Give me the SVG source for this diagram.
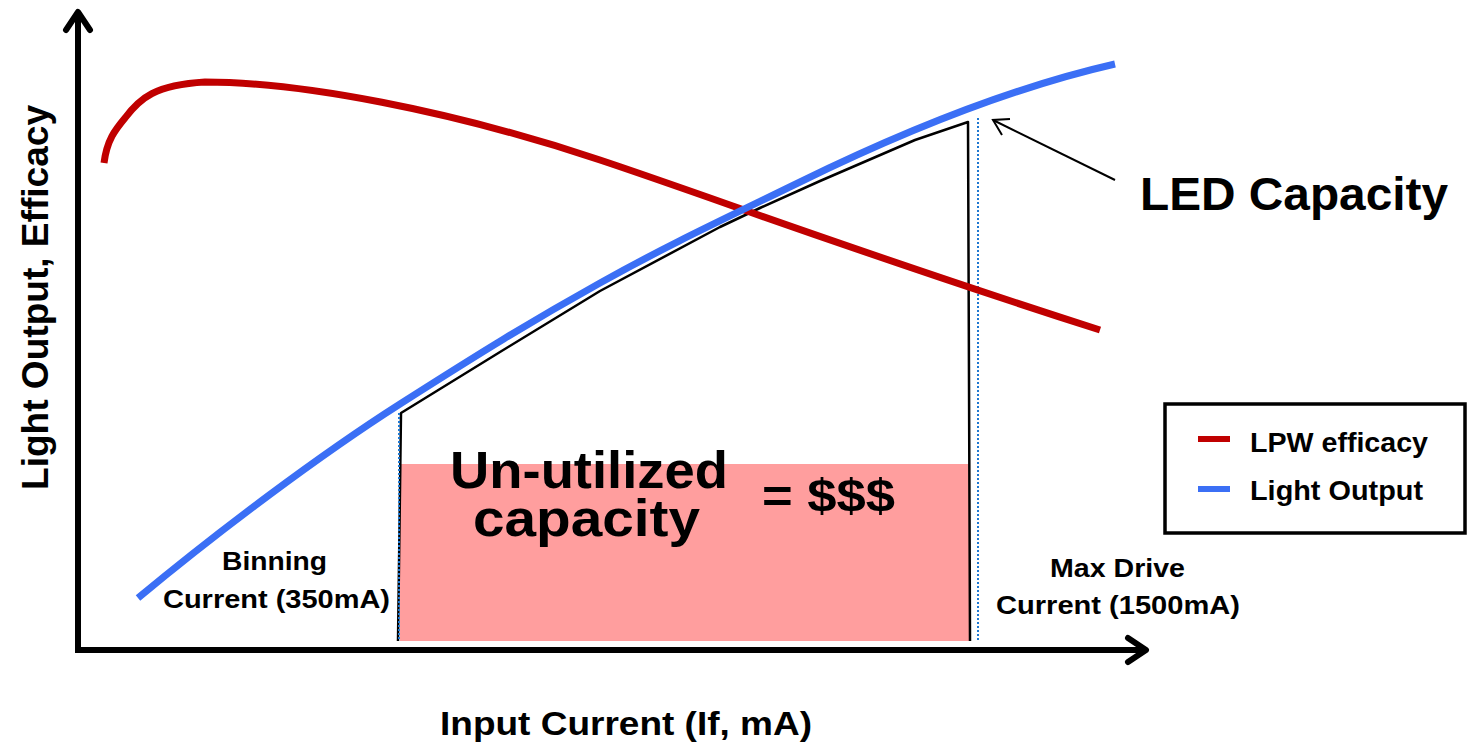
<svg xmlns="http://www.w3.org/2000/svg" width="1468" height="744" viewBox="0 0 1468 744">
<style>
.t{font-family:"Liberation Sans",Arial,sans-serif;font-weight:bold;fill:#000}
.axis{stroke:#000;stroke-width:6;fill:none}
.dot{stroke:#1f78d1;stroke-width:2;stroke-dasharray:2 2;fill:none}
</style>
<rect width="1468" height="744" fill="#fff"/>
<g id="region">
<rect x="400" y="464" width="570" height="177" fill="#ff9e9e"/>
<path d="M398,641 L401,413 L500,352 L600,291 L720,227 L760,208 L820,181 L915,140 L968,122 L970,641" fill="none" stroke="#000" stroke-width="2.5" stroke-linejoin="round"/>
</g>
<g id="guides">
<line class="dot" x1="399" y1="413" x2="399" y2="640"/>
<line class="dot" x1="978" y1="118" x2="978" y2="640"/>
</g>
<g id="curves">
<path id="efficacy" d="M104,163 C107,140 115,130 125,118 C140,98 155,85 205,82 C300,82 450,110 600,160 C720,200 850,250 1100,330" fill="none" stroke="#c00000" stroke-width="7"/>
<path id="light" d="M138,598 C220,530 320,455 400,404 S530,322 600,283 S720,221 800,182 C900,133 1010,88 1115,64" fill="none" stroke="#3b6ff5" stroke-width="7"/>
</g>
<g id="connectors">
<line class="axis" x1="78" y1="650" x2="78" y2="12"/>
<polyline class="axis" points="66,30 78,12 90,30" stroke-linejoin="round" stroke-linecap="round"/>
<line class="axis" x1="75" y1="650" x2="1144" y2="650"/>
<polyline class="axis" points="1128,638 1146,650 1128,662" stroke-linejoin="round" stroke-linecap="round"/>
<line x1="1115" y1="180" x2="993" y2="120" stroke="#000" stroke-width="2"/>
<polyline points="1010,119 993,120 1002,135" fill="none" stroke="#000" stroke-width="2"/>
</g>
<g id="labels">
<text class="t" x="1140" y="210" font-size="46" textLength="308" lengthAdjust="spacingAndGlyphs">LED Capacity</text>
<text class="t" x="450" y="488" font-size="52" textLength="278" lengthAdjust="spacingAndGlyphs">Un-utilized</text>
<text class="t" x="473" y="536" font-size="52" textLength="227" lengthAdjust="spacingAndGlyphs">capacity</text>
<text class="t" x="762" y="512" font-size="46" textLength="133" lengthAdjust="spacingAndGlyphs">= $$$</text>
<text class="t" x="222" y="570" font-size="25" textLength="105" lengthAdjust="spacingAndGlyphs">Binning</text>
<text class="t" x="163" y="608" font-size="25" textLength="227" lengthAdjust="spacingAndGlyphs">Current (350mA)</text>
<text class="t" x="1050" y="577" font-size="25" textLength="135" lengthAdjust="spacingAndGlyphs">Max Drive</text>
<text class="t" x="996" y="614" font-size="25" textLength="244" lengthAdjust="spacingAndGlyphs">Current (1500mA)</text>
<text class="t" x="440" y="735" font-size="34" textLength="372" lengthAdjust="spacingAndGlyphs">Input Current (If, mA)</text>
<text class="t" transform="translate(48,490) rotate(-90)" font-size="36" textLength="385" lengthAdjust="spacingAndGlyphs">Light Output, Efficacy</text>
</g>
<g id="legend">
<rect x="1165" y="404" width="300" height="129" fill="#fff" stroke="#000" stroke-width="3.5"/>
<line x1="1198" y1="439" x2="1230" y2="439" stroke="#c00000" stroke-width="6"/>
<line x1="1198" y1="489" x2="1230" y2="489" stroke="#3b6ff5" stroke-width="6"/>
<text class="t" x="1250" y="452" font-size="27" textLength="178" lengthAdjust="spacingAndGlyphs">LPW efficacy</text>
<text class="t" x="1250" y="500" font-size="27" textLength="173" lengthAdjust="spacingAndGlyphs">Light Output</text>
</g>
</svg>
